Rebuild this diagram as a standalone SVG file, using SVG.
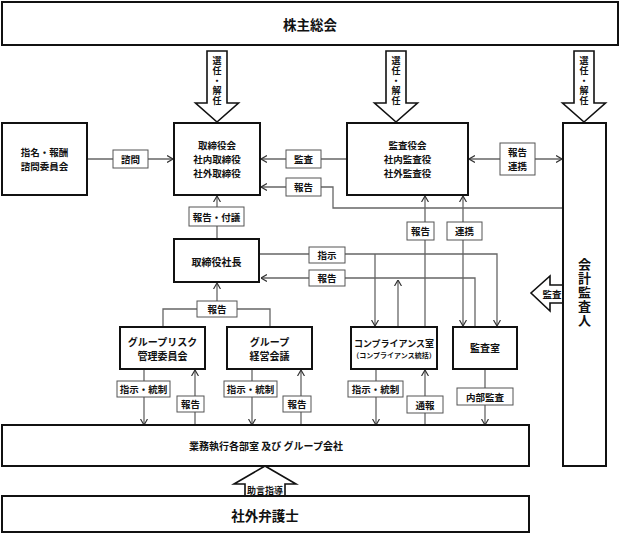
<svg xmlns="http://www.w3.org/2000/svg" width="622" height="534" viewBox="0 0 622 534">
<style>
text{font-family:"Noto Sans CJK JP","Noto Sans",sans-serif;fill:#111;text-anchor:middle;dominant-baseline:central;font-weight:bold}
.box{fill:#fff;stroke:#111;stroke-width:2}
.lbl{fill:#fff;stroke:#555;stroke-width:1}
.ln{fill:none;stroke:#666;stroke-width:1.3}
.blk{fill:#fff;stroke:#111;stroke-width:1.6;stroke-linejoin:miter}
.t10{font-size:10px}
.tm{font-size:9.5px}
.t9{font-size:9.5px}
.vt{writing-mode:vertical-rl;font-size:9px;letter-spacing:1px}
</style>
<defs>
<marker id="ah" viewBox="0 0 6 8" refX="6" refY="4" markerWidth="6" markerHeight="8" markerUnits="userSpaceOnUse" orient="auto-start-reverse">
<path d="M0,0.5 L6,4 L0,7.5" fill="none" stroke="#333" stroke-width="1.2"/>
</marker>
</defs>
<rect width="622" height="534" fill="#fff"/>

<g id="connectors">
<line class="ln" x1="87" y1="159" x2="173" y2="159" marker-end="url(#ah)"/>
<line class="ln" x1="347" y1="159" x2="261" y2="159" marker-end="url(#ah)"/>
<path class="ln" d="M563,208 H333 V187 H261" marker-end="url(#ah)"/>
<line class="ln" x1="469" y1="159" x2="562" y2="159" marker-start="url(#ah)" marker-end="url(#ah)"/>
<line class="ln" x1="217" y1="239" x2="217" y2="196" marker-end="url(#ah)"/>
<path class="ln" d="M260,254 H497 V326" marker-end="url(#ah)"/>
<line class="ln" x1="375" y1="254" x2="375" y2="326" marker-end="url(#ah)"/>
<path class="ln" d="M475,327 V278 H261" marker-end="url(#ah)"/>
<line class="ln" x1="398" y1="327" x2="398" y2="280" marker-end="url(#ah)"/>
<line class="ln" x1="425" y1="327" x2="425" y2="196" marker-end="url(#ah)"/>
<line class="ln" x1="463" y1="326" x2="463" y2="196" marker-start="url(#ah)" marker-end="url(#ah)"/>
<path class="ln" d="M163,327 V309 H270 V327"/>
<line class="ln" x1="217" y1="309" x2="217" y2="283" marker-end="url(#ah)"/>
<line class="ln" x1="144" y1="370" x2="144" y2="425" marker-end="url(#ah)"/>
<line class="ln" x1="195" y1="425" x2="195" y2="370" marker-end="url(#ah)"/>
<line class="ln" x1="252" y1="370" x2="252" y2="425" marker-end="url(#ah)"/>
<line class="ln" x1="301" y1="425" x2="301" y2="370" marker-end="url(#ah)"/>
<line class="ln" x1="376" y1="370" x2="376" y2="425" marker-end="url(#ah)"/>
<line class="ln" x1="425" y1="425" x2="425" y2="370" marker-end="url(#ah)"/>
<line class="ln" x1="485" y1="370" x2="485" y2="425" marker-end="url(#ah)"/>

<g id="labels">
<rect class="lbl" x="113" y="150" width="35" height="18"/><text class="t9" x="130.5" y="159">諮問</text>
<rect class="lbl" x="286" y="150" width="35" height="18"/><text class="t9" x="303.5" y="159">監査</text>
<rect class="lbl" x="286" y="178" width="35" height="18"/><text class="t9" x="303.5" y="187">報告</text>
<rect class="lbl" x="500" y="143" width="35" height="32"/><text class="t9" x="517.5" y="152">報告</text><text class="t9" x="517.5" y="166">連携</text>
<rect class="lbl" x="189" y="207" width="55" height="19"/><text class="t9" x="216.5" y="216.5">報告・付議</text>
<rect class="lbl" x="309" y="247" width="36" height="16"/><text class="t9" x="327" y="255">指示</text>
<rect class="lbl" x="309" y="270" width="36" height="16"/><text class="t9" x="327" y="278">報告</text>
<rect class="lbl" x="407" y="222" width="27" height="18"/><text class="t9" x="420.5" y="231">報告</text>
<rect class="lbl" x="447" y="222" width="35" height="18"/><text class="t9" x="464.5" y="231">連携</text>
<rect class="lbl" x="197" y="301" width="40" height="16"/><text class="t9" x="217" y="309">報告</text>
<rect class="lbl" x="117" y="381" width="53" height="16"/><text class="t9" x="143.5" y="389">指示・統制</text>
<rect class="lbl" x="177" y="396" width="27" height="16"/><text class="t9" x="190.5" y="404">報告</text>
<rect class="lbl" x="224" y="381" width="53" height="16"/><text class="t9" x="250.5" y="389">指示・統制</text>
<rect class="lbl" x="283" y="396" width="28" height="16"/><text class="t9" x="297" y="404">報告</text>
<rect class="lbl" x="348" y="381" width="55" height="16"/><text class="t9" x="375.5" y="389">指示・統制</text>
<rect class="lbl" x="407" y="396" width="36" height="17"/><text class="t9" x="425" y="404.5">通報</text>
<rect class="lbl" x="457" y="388" width="56" height="17"/><text class="t9" x="485" y="396.5">内部監査</text>
</g>
</g>

<g id="arrows">
<g id="arrow1"><path class="blk" d="M207,51 H227 V103 H238.5 L217,122 L195.5,103 H207 Z"/>
<text class="vt" x="217" y="81">選任・解任</text></g>
<g id="arrow2"><path class="blk" d="M386,51 H406 V103 H417.5 L396,122 L374.5,103 H386 Z"/>
<text class="vt" x="396" y="81">選任・解任</text></g>
<g id="arrow3"><path class="blk" d="M574,51 H594 V103 H605.5 L584,122 L562.5,103 H574 Z"/>
<text class="vt" x="584" y="81">選任・解任</text></g>
<g id="arrow-audit"><path class="blk" d="M563,285 H550 V276 L531,293 L550,311 V303 H563"/>
<text class="t9" x="552" y="294">監査</text></g>
<g id="arrow-advice"><path class="blk" d="M245,496 V484 H234 L265,466 L296,484 H285 V496"/>
<text style="font-size:9px" x="265" y="490">助言指導</text></g>
</g>

<g id="n-soukai"><rect class="box" x="2" y="2" width="616" height="43"/><text style="font-size:13.5px" x="310" y="24">株主総会</text></g>
<g id="n-shimei"><rect class="box" x="2" y="123" width="85" height="72"/><text class="tm" x="44.5" y="152">指名・報酬</text><text class="tm" x="44.5" y="166">諮問委員会</text></g>
<g id="n-torishimariyakukai"><rect class="box" x="174" y="123" width="86" height="72"/><text class="tm" x="217" y="145">取締役会</text><text class="tm" x="217" y="159">社内取締役</text><text class="tm" x="217" y="173">社外取締役</text></g>
<g id="n-kansayakukai"><rect class="box" x="347" y="123" width="121" height="72"/><text class="tm" x="407.5" y="145">監査役会</text><text class="tm" x="407.5" y="159">社内監査役</text><text class="tm" x="407.5" y="173">社外監査役</text></g>
<g id="n-kaikei"><rect class="box" x="563" y="123" width="43" height="343"/>
<text style="writing-mode:vertical-rl;font-size:13px;letter-spacing:0.8px" x="584.5" y="292.5">会計監査人</text></g>
<g id="n-shachou"><rect class="box" x="174" y="239" width="85" height="43"/><text class="t10" x="216.5" y="261">取締役社長</text></g>
<g id="n-risk"><rect class="box" x="120" y="327" width="85" height="42"/><text class="t10" x="162.5" y="341">グループリスク</text><text class="t10" x="162.5" y="355">管理委員会</text></g>
<g id="n-keiei"><rect class="box" x="227" y="327" width="85" height="42"/><text class="t10" x="269.5" y="341">グループ</text><text class="t10" x="269.5" y="355">経営会議</text></g>
<g id="n-comp"><rect class="box" x="351" y="327" width="86" height="42"/><text style="font-size:9px" x="394" y="343">コンプライアンス室</text><text style="font-size:7px" x="394" y="354.5">（コンプライアンス統括）</text></g>
<g id="n-kansashitsu"><rect class="box" x="453" y="327" width="64" height="42"/><text class="t10" x="485" y="347">監査室</text></g>
<g id="n-gyoumu"><rect class="box" x="2" y="425" width="527" height="41"/><text class="t10" x="266" y="445.5">業務執行各部室 及び グループ会社</text></g>
<g id="n-bengoshi"><rect class="box" x="2" y="496" width="527" height="36"/><text style="font-size:13.5px" x="265" y="515">社外弁護士</text></g>
</svg>
